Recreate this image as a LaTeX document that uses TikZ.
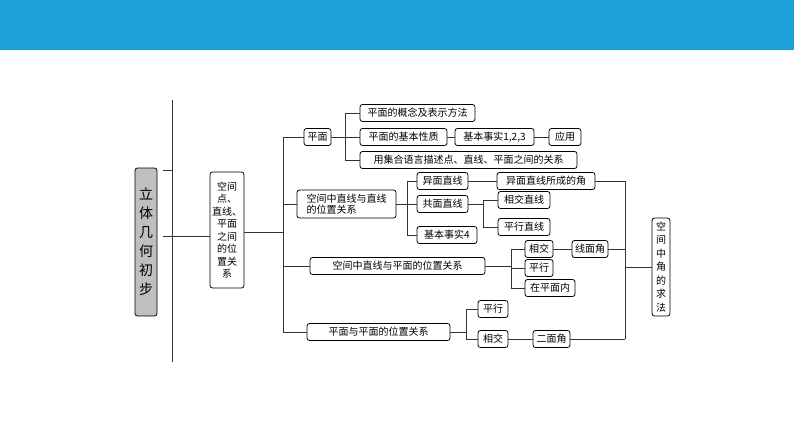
\documentclass[tikz,border=0pt]{standalone}
\usepackage{fontspec}
\newfontfamily\cjk{Noto Sans CJK SC}
\definecolor{topblue}{HTML}{1DA1DB}
\tikzset{
  bx/.style={draw, thick, rounded corners=2.5pt, inner sep=1pt, minimum height=17pt, font=\cjk\fontsize{10}{11.5}\selectfont, align=center},
  ln/.style={draw, line width=0.9pt, black!80}
}
\begin{document}
\begin{tikzpicture}[x=1pt,y=-1pt]
\useasboundingbox (0,0) rectangle (794,447);
\fill[topblue] (0,0) rectangle (794,50);
% left
\draw[ln] (172,100) -- (172,362);
\coordinate (t1) at (163,170); \coordinate (t1e) at (172,170);
\coordinate (t2) at (163,236); \coordinate (t2e) at (172,236);
\draw[ln] (t1) -- (t1e); \draw[ln] (t2) -- (t2e);
\node[bx, fill=black!25, minimum width=22pt, minimum height=148pt, font=\cjk\fontsize{14}{19}\selectfont] (main) at (146,242) {立\\体\\几\\何\\初\\步};
\node[bx, minimum width=34pt, minimum height=116pt, font=\cjk\fontsize{10}{12.5}\selectfont] (sp) at (227,230) {空间\\点、\\直线、\\平面\\之间\\的位\\置关\\系};
\draw[ln] (t2e) -- (sp.west |- t2e);
\coordinate (v1) at (283,232);
\draw[ln] (sp.east |- v1) -- (v1);
% level 2
\node[bx, minimum width=27pt] (pm) at (317.5,137) {平面};
\node[bx, minimum width=99pt, minimum height=28pt, font=\cjk\fontsize{10}{11}\selectfont, align=left] (zz) at (346.5,204) {空间中直线与直线\\的位置关系};
\node[bx, minimum width=175pt] (zp) at (397.5,266) {空间中直线与平面的位置关系};
\node[bx, minimum width=143pt] (pp) at (378.5,332) {平面与平面的位置关系};
\draw[ln] (v1 |- pm) -- (v1 |- pp);
\foreach \n in {pm,zz,zp,pp} \draw[ln] (v1 |- \n) -- (\n.west);
% plane branch
\node[bx, minimum width=115pt] (a1) at (417.5,113) {平面的概念及表示方法};
\node[bx, minimum width=87pt] (a2) at (403.5,137) {平面的基本性质};
\node[bx, minimum width=79pt] (a3) at (494.5,137) {基本事实1,2,3};
\node[bx, minimum width=32pt] (a4) at (565,137) {应用};
\node[bx, minimum width=217pt] (a5) at (468.5,160) {用集合语言描述点、直线、平面之间的关系};
\coordinate (v2) at (345,137);
\draw[ln] (v2 |- a1) -- (v2 |- a5);
\draw[ln] (pm.east) -- (v2);
\foreach \n in {a1,a2,a5} \draw[ln] (v2 |- \n) -- (\n.west);
\draw[ln] (a2) -- (a3); \draw[ln] (a3) -- (a4);
% line-line
\node[bx, minimum width=51pt] (b1) at (442.5,181) {异面直线};
\node[bx, minimum width=51pt] (b2) at (442.5,204) {共面直线};
\node[bx, minimum width=60pt] (b3) at (447,235) {基本事实4};
\node[bx, minimum width=98pt] (b4) at (546,181) {异面直线所成的角};
\node[bx, minimum width=52pt] (b5) at (524,200) {相交直线};
\node[bx, minimum width=52pt] (b6) at (524,227) {平行直线};
\coordinate (v3) at (407,204);
\draw[ln] (v3 |- b1) -- (v3 |- b3);
\draw[ln] (zz.east) -- (v3);
\foreach \n in {b1,b2,b3} \draw[ln] (v3 |- \n) -- (\n.west);
\draw[ln] (b1) -- (b4);
\coordinate (v4) at (483,204);
\draw[ln] (b2.east) -- (v4);
\draw[ln] (v4 |- b5) -- (v4 |- b6);
\foreach \n in {b5,b6} \draw[ln] (v4 |- \n) -- (\n.west);
% line-plane
\node[bx, minimum width=28pt] (c1) at (539,249) {相交};
\node[bx, minimum width=28pt] (c2) at (539,268) {平行};
\node[bx, minimum width=50pt] (c3) at (550,288) {在平面内};
\node[bx, minimum width=36pt] (c4) at (590,249) {线面角};
\coordinate (v5) at (511,266);
\draw[ln] (zp.east) -- (v5);
\draw[ln] (v5 |- c1) -- (v5 |- c3);
\foreach \n in {c1,c2,c3} \draw[ln] (v5 |- \n) -- (\n.west);
\draw[ln] (c1) -- (c4);
% plane-plane
\node[bx, minimum width=30pt] (d1) at (493,309) {平行};
\node[bx, minimum width=30pt] (d2) at (493,339) {相交};
\node[bx, minimum width=37pt] (d3) at (551.5,339) {二面角};
\coordinate (v6) at (466,332);
\draw[ln] (pp.east) -- (v6);
\draw[ln] (v6 |- d1) -- (v6 |- d2);
\foreach \n in {d1,d2} \draw[ln] (v6 |- \n) -- (\n.west);
\draw[ln] (d2) -- (d3);
% right
\node[bx, minimum width=18pt, minimum height=98pt, font=\cjk\fontsize{10}{13.5}\selectfont] (r) at (661,267) {空\\间\\中\\角\\的\\求\\法};
\coordinate (v7) at (625,267);
\draw[ln] (v7 |- b4) -- (v7 |- d3);
\draw[ln] (b4.east) -- (v7 |- b4);
\draw[ln] (c4.east) -- (v7 |- c4);
\draw[ln] (d3.east) -- (v7 |- d3);
\draw[ln] (v7) -- (r.west |- v7);
\end{tikzpicture}
\end{document}
